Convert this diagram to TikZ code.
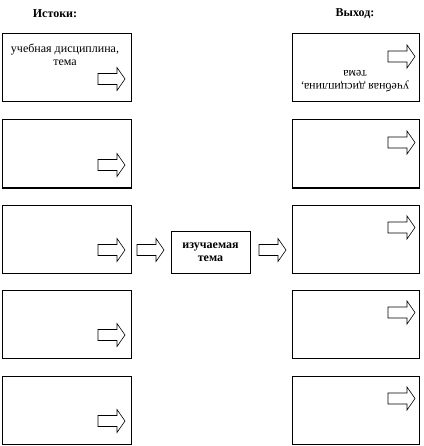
\documentclass[tikz,border=0pt]{standalone}
\usepackage{fontspec}
\setmainfont{Liberation Serif}
\begin{document}
\begin{tikzpicture}[x=1pt,y=-1pt,
  box/.style={draw, line width=1pt, minimum height=68pt, inner sep=0pt},
  lbox/.style={box, minimum width=129pt},
  rbox/.style={box, minimum width=127pt},
  txt/.style={font=\fontsize{12}{13.5}\selectfont, align=center, inner sep=0pt},
  ttl/.style={font=\fontsize{12}{14}\selectfont\bfseries, inner sep=0pt},
  fatarrow/.pic={\draw[line width=0.6pt, line join=miter, fill=white]
      (0,-5.5) -- (19,-5.5) -- (19,-11.5) -- (27,0) -- (19,11.5) -- (19,5.5) -- (0,5.5) -- cycle;}
]
\useasboundingbox (0,0) rectangle (423,446);
\fill[white] (0,0) rectangle (423,446);

\node[ttl] (tin) at (55,14) {Истоки:};
\node[ttl] (tout) at (355,14) {Выход:};

\foreach \t [count=\i] in {34,120,205,290,376}{
  \node[lbox] (L\i) at (66.5,\t+34) {};
  \node[rbox] (R\i) at (355.5,\t+34) {};
  \pic at (98,\t+45) {fatarrow};
  \pic at (388,\t+22.5) {fatarrow};
}

\node[txt] (ltext) at (65,55) {учебная дисциплина,\\тема};
\node[txt, rotate=180] (rtext) at (355,81) {учебная дисциплина,\\тема};

\node[draw, line width=1pt, minimum width=79pt, minimum height=42pt, inner sep=0pt,
      font=\fontsize{12}{12.5}\selectfont\bfseries, align=center] (C) at (210.5,252) {изучаемая\\тема};

\pic at (137,250) {fatarrow};
\pic at (259,250) {fatarrow};
\end{tikzpicture}
\end{document}
